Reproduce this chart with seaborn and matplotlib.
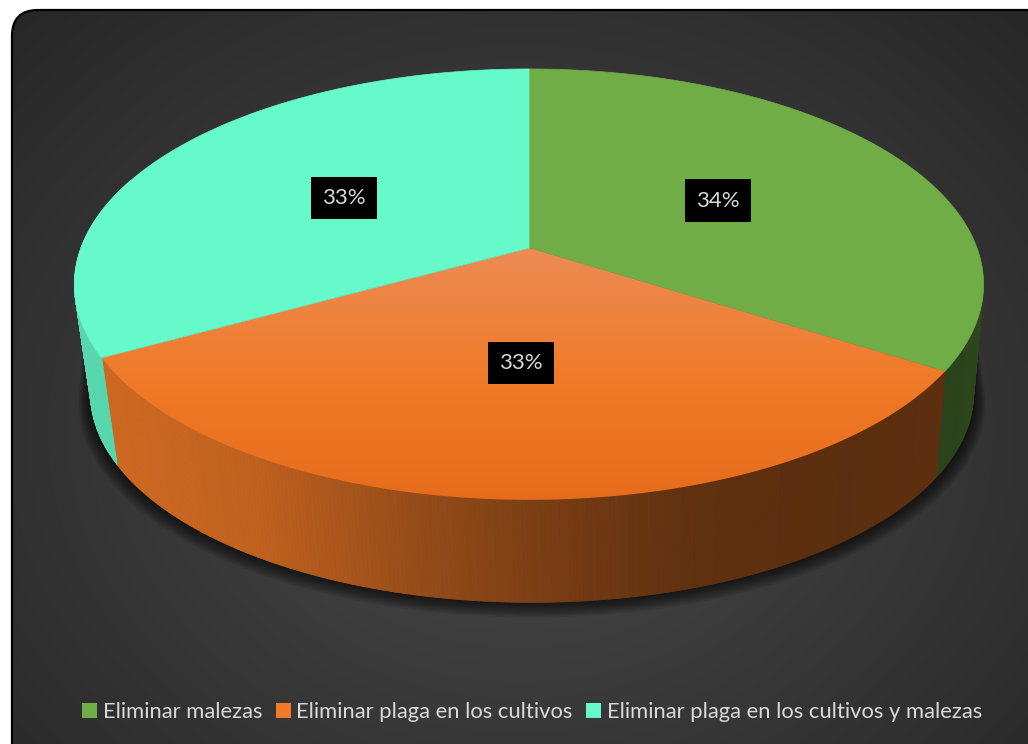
import numpy as np
import matplotlib
matplotlib.use("Agg")
import matplotlib.pyplot as plt
import seaborn as sns
from matplotlib.patches import Polygon, FancyBboxPatch, Patch
from matplotlib.collections import PolyCollection

# ---------------- data ----------------
categories = ["Eliminar malezas",
              "Eliminar plaga en los cultivos",
              "Eliminar plaga en los cultivos y malezas"]
values = [34, 33, 33]
pct_labels = ["34%", "33%", "33%"]
slice_colors = ["#70AD47", "#F07A28", "#66FACA"]

sns.set_style("white")
plt.rcParams["font.family"] = ["Lato", "DejaVu Sans"]
palette = sns.color_palette(slice_colors)

W, H = 1028, 744
fig = plt.figure(figsize=(W / 100, H / 100), dpi=100)
fig.patch.set_facecolor("white")
ax = fig.add_axes([0, 0, 1, 1])
ax.set_xlim(0, W)
ax.set_ylim(H, 0)
ax.axis("off")

# ---------------- background frame ----------------
frame = FancyBboxPatch((12, 10), 1060, 780, boxstyle="round,pad=0,rounding_size=26",
                       fc="none", ec="none", transform=ax.transData)
ax.add_patch(frame)
yy, xx = np.mgrid[0:H, 0:W]
d = np.sqrt(((xx - 520) / 760.0) ** 2 + ((yy - 430) / 620.0) ** 2)
d = np.clip(d, 0, 1)
c0 = np.array([0x4a, 0x4a, 0x4a]) / 255.0
c1 = np.array([0x25, 0x25, 0x25]) / 255.0
bg = c0[None, None, :] * (1 - d[..., None]) + c1[None, None, :] * d[..., None]
im = ax.imshow(bg, extent=(0, W, H, 0), origin="upper", aspect="auto", zorder=0)
im.set_clip_path(frame)
ax.add_patch(FancyBboxPatch((12, 10), 1060, 780, boxstyle="round,pad=0,rounding_size=26",
                            fc="none", ec="black", lw=1.6, zorder=1))

# ---------------- 3D pie projection ----------------
CX, CY, A, B, K = 529.0, 248.0, 448.0, 209.3, 0.169
CX2, CY2, A2, B2 = 532.0, 358.0, 435.0, 203.0


def proj(theta, r=1.0, bottom=False):
    t = np.radians(theta)
    u = r * np.cos(t)
    v = r * np.sin(t)
    w = 1 + K * v
    if bottom:
        return CX2 + A2 * u / w, CY2 - B2 * v / w
    return CX + A * u / w, CY - B * v / w


total = float(sum(values))
angles = []
start = 90.0
for val in values:
    end = start - 360.0 * val / total
    angles.append((start, end))
    start = end

# shadow (only below the rim)
for i in range(9, 0, -1):
    s = 1 + 0.003 * i
    ts1 = np.linspace(-9.7, 189.7, 200)
    ts2 = np.linspace(189.7, 350.3, 200)
    tx, ty = proj(ts1, 0.97)
    bx, by = proj(ts2, s, bottom=True)
    px = np.concatenate([tx, bx])
    py = np.concatenate([ty, by + 0.8 * i])
    ax.add_patch(Polygon(np.column_stack([px, py]), closed=True, fc="black",
                         ec="none", alpha=0.09, zorder=2))

# sides
shade_x = [60, 113, 250, 420, 520, 600, 700, 850, 1000]
shade_f = [0.86, 0.86, 0.80, 0.62, 0.53, 0.46, 0.40, 0.38, 0.40]
for (t1, t2), col in zip(angles, palette):
    lo, hi = max(t2, -200.0), min(t1, 20.0)
    if lo >= hi:
        continue
    ts = np.linspace(lo, hi, int((hi - lo) / 0.5) + 2)
    polys, cols = [], []
    base = np.array(col)
    for a, b in zip(ts[:-1], ts[1:]):
        ta = proj(a)
        tb = proj(b)
        ba = proj(a, bottom=True)
        bb = proj(b, bottom=True)
        polys.append([ta, tb, bb, ba])
        xm = (ta[0] + tb[0]) / 2
        f = np.interp(xm, shade_x, shade_f)
        cols.append(tuple(np.clip(base * f, 0, 1)))
    ax.add_collection(PolyCollection(polys, facecolors=cols, edgecolors=cols,
                                     linewidths=0.7, zorder=3))

# top faces
for idx, ((t1, t2), col) in enumerate(zip(angles, palette)):
    ts = np.linspace(t1, t2, 300)
    xs, ys = proj(ts)
    pts = np.column_stack([np.concatenate([[CX], xs]), np.concatenate([[CY], ys])])
    if idx == 1:
        poly = Polygon(pts, closed=True, fc="none", ec="none", zorder=4)
        ax.add_patch(poly)
        ystops = [248, 380, 500]
        cstops = np.array([[236, 139, 85], [240, 122, 40], [230, 108, 28]]) / 255.0
        grad = np.stack([np.interp(np.arange(H), ystops, cstops[:, k]) for k in range(3)], axis=-1)
        gimg = np.repeat(grad[:, None, :], W, axis=1)
        gi = ax.imshow(gimg, extent=(0, W, H, 0), origin="upper", aspect="auto", zorder=4)
        gi.set_clip_path(poly)
    else:
        ax.add_patch(Polygon(pts, closed=True, fc=col, ec=col, lw=0.5, zorder=4))

# data labels
for (t1, t2), lab in zip(angles, pct_labels):
    mx, my = proj((t1 + t2) / 2.0, 0.5)
    ax.text(mx, my + 1, lab, ha="center", va="center", color="#D9D9D9", fontsize=16,
            zorder=6, bbox=dict(boxstyle="square,pad=0.5", fc="black", ec="none"))

# legend
handles = [Patch(facecolor=c, edgecolor="none") for c in palette]
leg = ax.legend(handles, categories, loc="center", bbox_to_anchor=(0.5175, 1 - 712 / H),
                ncol=3, frameon=False, fontsize=15.8, labelcolor="#D9D9D9",
                handlelength=0.7, handleheight=0.7, handletextpad=0.25,
                columnspacing=0.6)

fig.savefig("out.png", dpi=100, facecolor="white")
